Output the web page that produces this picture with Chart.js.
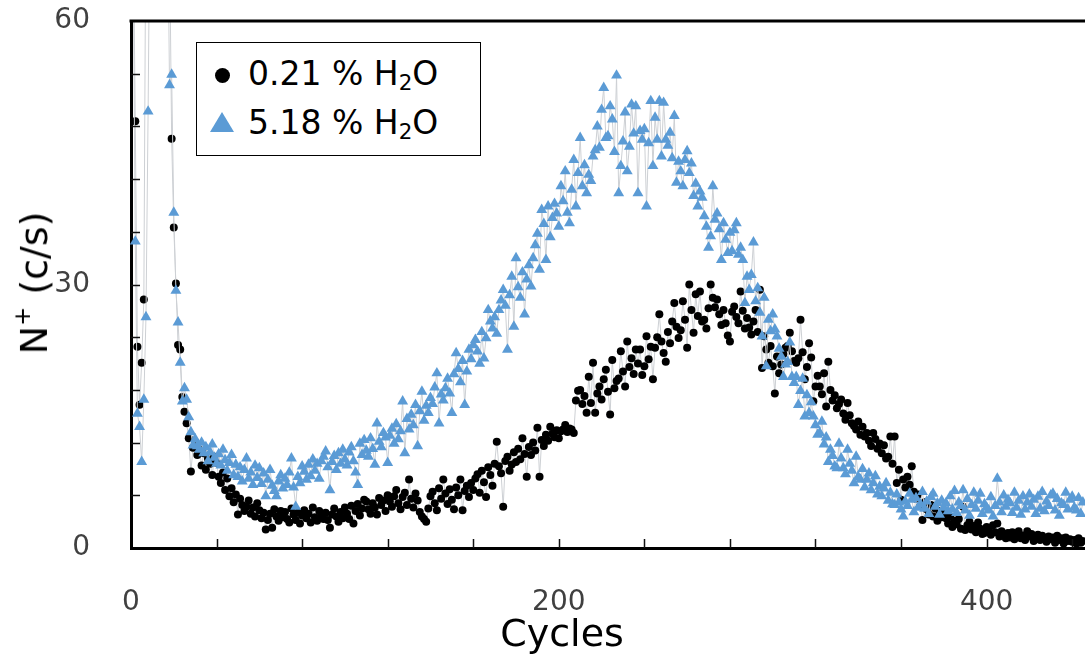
<!DOCTYPE html>
<html><head><meta charset="utf-8">
<script src="https://cdn.jsdelivr.net/npm/chart.js@4.4.1/dist/chart.umd.min.js"></script>
<style>
html,body{margin:0;padding:0;background:#fff;overflow:hidden;}
#wrap{position:relative;width:1085px;height:657px;}
canvas{position:absolute;left:0;top:0;}
.t{position:absolute;font-family:"DejaVu Sans",Verdana,sans-serif;color:#000;white-space:nowrap;line-height:1;}
#xt{font-size:38px;left:562px;top:614px;transform:translateX(-50%);}
#yt{font-size:38px;left:32px;top:283px;transform:translate(-50%,-50%) rotate(-90deg);}
#yt sup{font-size:60%;line-height:1;vertical-align:0.75em;}
#legend{position:absolute;left:196px;top:42px;width:285px;height:114px;box-sizing:border-box;border:1.5px solid #000;background:#fff;}
.lt{position:absolute;left:51px;font-family:"DejaVu Sans",Verdana,sans-serif;font-size:33px;line-height:1;white-space:nowrap;color:#000;}
.lt sub{font-size:65%;line-height:1;vertical-align:-0.22em;}
.mk-c{position:absolute;width:15px;height:15px;border-radius:50%;background:#000;}
.mk-t{position:absolute;width:0;height:0;border-left:12px solid transparent;border-right:12px solid transparent;border-bottom:20px solid #5b9bd5;}
</style></head><body>
<div id="wrap">
<canvas id="c" width="1085" height="657"></canvas>
<div class="t" id="xt">Cycles</div>
<div class="t" id="yt">N<sup>+</sup> (c/s)</div>
<div id="legend"></div>
</div>
<script>
// ---- data ----
const firstCycle = 1;
const seriesLabels = ['0.21 % H<sub>2</sub>O', '5.18 % H<sub>2</sub>O'];
const xTickLabels = [0, 200, 400];
const yTickLabels = [0, 30, 60];

const lowWater = [
72,48.6,22.9,16.3,21.1,28.3,75,82,88,92,
95,93,90,88,84,80,76,70,46.6,36.5,
30.1,23.1,22.6,17.2,15.5,14.2,12.5,8.7,11.4,12.1,
10.6,11.2,9.4,10.8,8.9,10.2,9.6,8.3,10.4,9.7,
8.1,7.4,8.6,6.6,7.9,5.9,6.8,5.2,6.1,3.8,
5.6,4.9,4.2,4.7,5.4,3.9,4.6,3.6,5.1,4.3,
3.4,4.0,2.1,3.2,3.9,2.3,4.4,3.6,3.1,4.2,
3.5,4.1,3.3,2.9,4.5,3.8,3.2,4.0,2.8,3.7,
4.3,3.4,3.9,2.9,4.6,3.5,3.1,4.2,3.6,3.3,
4.0,3.2,2.3,3.8,4.5,3.6,3.0,4.1,3.4,4.6,
3.9,3.3,4.8,2.8,4.2,5.0,3.7,4.5,5.5,5.3,
4.4,3.9,5.1,4.6,3.8,5.7,4.9,5.4,4.2,6.0,
5.3,4.7,5.9,6.6,5.1,4.4,5.8,6.3,4.9,7.8,
5.6,4.6,6.2,5.4,4.1,3.6,3.3,3.0,4.5,5.9,
6.4,5.1,4.3,6.8,5.6,7.8,6.2,5.0,6.7,5.5,
4.4,6.9,6.0,7.8,4.3,6.5,7.1,5.8,7.4,6.6,
7.9,8.4,6.3,8.8,7.5,5.8,9.2,8.3,7.1,9.6,
12.1,9.3,8.5,4.7,9.9,10.4,8.8,9.5,10.9,9.8,
11.3,10.1,12.5,10.7,8.1,11.5,10.6,12.0,11.1,13.7,
8.1,12.3,11.6,12.9,12.2,13.8,13.0,12.6,13.4,12.5,
13.3,13.5,14.0,13.2,13.6,13.5,13.1,16.8,17.9,18.0,
16.4,17.3,15.4,19.5,16.5,21.1,15.4,17.6,18.4,16.9,
19.2,20.3,17.8,15.2,21.4,18.2,19.0,19.3,22.4,20.1,
18.4,23.5,20.6,21.6,19.8,22.6,21.0,22.6,19.7,20.7,
24.1,21.5,22.9,19.2,22.8,24.0,26.6,23.5,22.2,21.2,
24.6,23.3,25.8,27.9,25.2,23.9,24.8,28.1,26.0,22.8,
30.0,27.1,24.5,28.9,26.4,29.2,25.8,26.0,25.0,27.3,
30.0,28.5,27.4,28.3,26.6,25.4,27.1,25.6,24.2,23.5,
26.9,27.5,26.3,25.6,29.2,27.0,25.0,26.2,25.1,24.3,
25.8,27.1,24.6,29.4,20.5,24.1,22.6,21.1,23.0,20.7,
17.6,21.8,19.9,20.9,22.1,22.8,23.0,24.5,22.4,21.3,
21.1,21.6,26.0,22.3,19.2,20.6,23.3,21.7,16.7,18.4,
19.6,18.4,17.5,19.9,16.1,21.2,18.0,16.8,17.4,15.9,
16.4,16.9,15.3,14.6,16.5,15.1,14.2,13.9,13.5,14.4,
12.9,13.8,12.7,13.1,12.2,11.6,13.1,12.4,11.3,11.9,
10.8,11.7,10.2,10.4,12.7,9.6,12.7,7.4,8.9,5.5,
7.8,6.9,8.1,7.2,9.3,6.4,5.6,6.1,4.8,3.2,
5.2,4.4,3.8,4.9,3.6,4.5,3.1,4.2,3.5,4.1,
3.4,2.8,3.6,2.4,3.1,2.7,3.3,2.2,4.7,2.05,
2.6,3.0,2.1,2.5,1.8,2.9,2.2,1.6,1.7,2.4,
2.0,1.5,2.6,1.8,2.8,1.3,1.9,1.4,1.1,1.7,
1.2,1.8,1.0,1.5,1.9,1.1,1.4,0.9,1.9,1.3,
1.6,0.8,1.2,1.5,0.9,1.4,1.1,0.7,1.3,1.0,
1.2,0.6,1.4,0.9,1.1,0.5,1.2,0.8,1.0,0.7,
0.9,0.5,1.1,0.6,0.8
];

const highWater = [
68,34.9,15.3,13.8,9.8,16.9,26.3,49.7,78,85,
90,92,94,91,88,84,76,52.7,53.9,38.2,
29.3,25.7,21.1,16.7,18.2,16.9,14.9,13.2,11.7,12.4,
11.6,11.2,12.0,10.8,11.5,9.9,10.9,11.8,10.3,9.6,
10.7,9.4,11.2,10.0,8.8,9.7,10.6,8.3,9.5,8.1,
9.2,7.6,8.9,10.2,7.9,8.6,7.2,9.4,8.0,9.1,
7.3,8.5,5.9,7.8,8.9,7.1,6.5,5.9,7.6,8.3,
6.8,7.9,7.2,8.6,10.2,6.9,4.7,8.1,7.4,9.3,
8.7,7.8,9.5,8.2,10.1,8.8,9.6,7.9,9.9,10.4,
11.0,9.2,6.6,9.8,10.5,8.9,10.8,9.6,11.2,10.1,
9.4,10.9,11.5,9.9,8.6,7.2,11.9,10.6,12.3,11.1,
10.4,12.5,11.3,9.5,14.2,12.1,11.5,13.1,12.6,9.7,
12.8,13.6,11.9,14.1,12.4,13.3,16.7,10.8,14.7,13.5,
15.2,14.0,16.3,11.6,15.6,17.8,14.5,16.2,15.4,17.1,
16.4,18.3,19.9,14.2,17.5,16.8,18.2,19.3,17.6,15.4,
19.8,22.2,20.4,18.9,21.3,16.3,20.1,22.6,21.5,23.1,
23.7,22.4,21.0,24.6,21.6,23.9,27.1,25.8,25.0,26.3,
24.4,27.1,28.2,29.4,27.6,22.6,28.8,30.9,25.2,33.0,
29.7,28.5,31.4,26.6,30.6,32.2,29.8,33.0,34.5,35.8,
31.7,38.5,36.9,32.8,38.9,35.4,37.6,39.2,38.1,36.6,
41.2,39.5,42.9,38.2,37.0,40.8,44.2,38.9,42.7,46.7,
41.2,43.6,40.4,42.5,41.8,44.6,45.3,48.0,45.6,49.9,
52.4,46.7,46.9,50.3,48.8,45.1,53.8,40.4,43.5,46.3,
49.6,42.9,45.7,50.5,47.2,50.3,40.4,47.5,46.5,47.7,
38.9,46.1,50.9,43.5,49.0,46.5,50.9,44.6,50.7,46.5,
45.8,47.3,44.4,49.2,41.6,44.0,42.9,41.2,44.2,45.2,
42.7,43.8,40.1,41.5,38.9,40.6,39.9,37.8,36.6,34.2,
35.5,41.2,37.4,38.1,36.3,32.8,37.0,35.1,33.6,35.9,
33.8,36.2,37.0,33.4,34.2,32.8,27.9,30.9,29.4,31.1,
34.8,28.1,29.6,26.8,24.1,28.5,20.7,26.0,24.7,26.6,
24.9,24.1,22.7,21.8,19.5,20.9,21.2,23.4,19.5,18.8,
19.5,16.3,17.9,19.3,15.0,17.4,15.4,16.6,15.0,14.0,
12.9,13.1,14.4,11.8,12.6,9.8,11.2,10.5,9.3,9.1,
11.9,10.2,9.1,8.4,11.2,9.6,8.8,7.4,10.4,8.1,
7.8,9.0,6.9,7.8,8.5,6.6,7.4,8.2,6.1,7.0,
5.9,6.8,7.4,5.4,6.3,5.0,4.9,6.1,5.2,4.4,
3.6,5.3,4.8,6.2,5.5,4.1,5.7,4.6,5.0,6.4,
4.5,5.3,3.9,5.8,6.2,4.7,5.1,3.8,5.4,4.6,
5.1,4.2,5.9,4.4,6.5,4.0,5.2,4.8,6.6,4.3,
5.6,3.7,4.9,6.3,4.5,5.4,6.2,3.9,5.0,4.6,
4.3,5.8,3.6,4.8,7.9,5.2,4.1,6.0,4.7,5.5,
5.1,4.0,6.3,4.6,5.4,3.8,5.9,4.4,5.2,6.1,
4.7,5.5,3.9,5.85,4.5,6.4,4.2,5.3,4.8,6.0,
6.2,4.3,5.6,3.7,5.1,4.9,6.3,4.4,5.5,5.85,
4.6,4.3,5.7,3.9,5.2
];

// ---- legend (HTML, real text) ----
const legendEl = document.getElementById('legend');
legendEl.innerHTML =
  '<div class="mk-c" style="left:18px;top:25px"></div>' +
  '<div class="lt" style="top:14px">' + seriesLabels[0] + '</div>' +
  '<div class="mk-t" style="left:13px;top:69px"></div>' +
  '<div class="lt" style="top:63px">' + seriesLabels[1] + '</div>';

const toPts = arr => arr.map((v, i) => ({x: firstCycle + i, y: v}));

const frame = {
  id: 'frame',
  afterDraw(chart) {
    const {ctx, chartArea: a, scales: {x, y}} = chart;
    ctx.save();
    ctx.strokeStyle = '#000';
    ctx.lineWidth = 3;
    ctx.beginPath();
    ctx.moveTo(a.left - 1.5, a.top);
    ctx.lineTo(a.right, a.top);
    ctx.stroke();
    ctx.lineWidth = 1.5;
    ctx.strokeStyle = '#111';
    ctx.beginPath();
    x.ticks.forEach(t => {
      const px = Math.round(x.getPixelForValue(t.value)) + 0.5;
      if (px <= a.left + 2) return;
      ctx.moveTo(px, a.bottom); ctx.lineTo(px, a.bottom - 9);
    });
    y.ticks.forEach(t => {
      const py = Math.round(y.getPixelForValue(t.value)) + 0.5;
      if (py >= a.bottom - 2 || py <= a.top + 2) return;
      ctx.moveTo(a.left, py); ctx.lineTo(a.left + 9, py);
    });
    ctx.stroke();
    ctx.restore();
  }
};

const tickFont = {family: 'DejaVu Sans', size: 28};
new Chart(document.getElementById('c'), {
  type: 'line',
  data: {
    datasets: [
      {
        label: '5.18 % H2O', data: toPts(highWater), order: 1,
        borderColor: '#cdd0d4', borderWidth: 1, tension: 0,
        pointStyle: 'triangle', pointRadius: 6.3,
        pointBackgroundColor: '#5b9bd5', pointBorderColor: '#5b9bd5', pointBorderWidth: 0,
        clip: {left: 6, top: 0, right: 0, bottom: 8}
      },
      {
        label: '0.21 % H2O', data: toPts(lowWater), order: 2,
        borderColor: '#cdd0d4', borderWidth: 1, tension: 0,
        pointStyle: 'circle', pointRadius: 4,
        pointBackgroundColor: '#000', pointBorderColor: '#000', pointBorderWidth: 0,
        clip: {left: 6, top: 0, right: 0, bottom: 8}
      }
    ]
  },
  options: {
    responsive: false, animation: false, devicePixelRatio: 1,
    layout: {autoPadding: false, padding: {top: 21, right: 0, left: 0, bottom: 0}},
    plugins: {legend: {display: false}, tooltip: {enabled: false}},
    scales: {
      x: {
        type: 'linear', min: 0, max: 446,
        afterFit(s) { s.height = 109; s.paddingLeft = 0; s.paddingRight = 0; },
        grid: {display: false},
        border: {display: true, color: '#000', width: 3},
        ticks: {
          stepSize: 40, includeBounds: false, autoSkip: false, maxRotation: 0,
          padding: 30, color: '#404040', font: tickFont,
          callback: v => xTickLabels.includes(v) ? String(v) : ''
        }
      },
      y: {
        type: 'linear', min: 0, max: 60,
        afterFit(s) { s.width = 131; s.paddingTop = 0; s.paddingBottom = 0; },
        grid: {display: false},
        border: {display: true, color: '#000', width: 3},
        ticks: {
          stepSize: 6, includeBounds: false, autoSkip: false,
          padding: 33, color: '#404040', font: tickFont,
          callback: v => yTickLabels.includes(v) ? String(v) : ''
        }
      }
    }
  },
  plugins: [frame]
});
</script>
</body></html>
